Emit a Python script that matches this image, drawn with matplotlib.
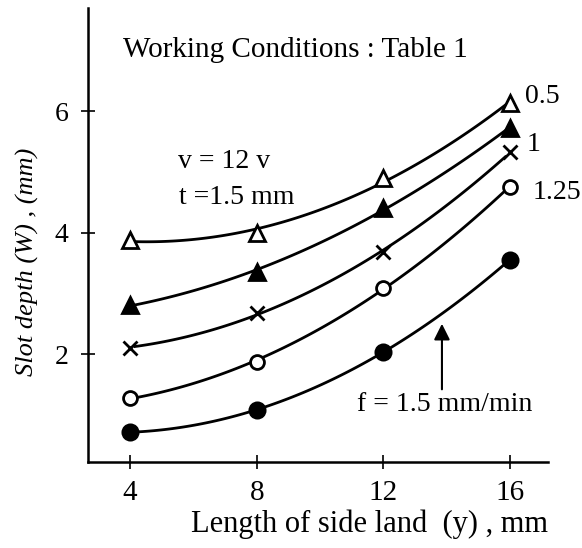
import numpy as np
import matplotlib.pyplot as plt

# side land length (mm)
side_land = [4, 8, 12, 16]

# slot depth (mm), one list per tool setting
depth_open_tri = [3.88, 4.00, 4.90, 6.14]     # 0.5
depth_filled_tri = [2.81, 3.36, 4.41, 5.73]   # 1
depth_cross = [2.11, 2.68, 3.69, 5.33]
depth_open_circ = [1.28, 1.88, 3.10, 4.76]    # 1.25
depth_filled_circ = [0.72, 1.09, 2.04, 3.56]  # f = 1.5 mm/min

curve_labels = ["0.5", "1", "1.25"]

plt.rcParams['font.family'] = ['Liberation Serif', 'DejaVu Serif']

fig = plt.figure(figsize=(5.82, 5.48), dpi=100)
ax = fig.add_axes([88/582, 86/548, 460/582, 454/548])

series = [
    (depth_open_tri, '^', 'white', 11),
    (depth_filled_tri, '^', 'black', 11),
    (depth_cross, 'x', 'black', 10),
    (depth_open_circ, 'o', 'white', 10),
    (depth_filled_circ, 'o', 'black', 11),
]

x = np.array(side_land, dtype=float)
xs = np.linspace(4.15, 15.85, 100)
for vals, mk, fc, ms in series:
    coef = np.polyfit(x, vals, 2)
    ax.plot(xs, np.polyval(coef, xs), color='black', lw=2)
    ax.plot(x, vals, linestyle='none', marker=mk, markersize=ms,
            markerfacecolor=fc, markeredgecolor='black', markeredgewidth=2)

ax.set_xlim(2.67, 17.2)
ax.set_ylim(0.23, 7.70)
ax.set_xticks([4, 8, 12, 16])
ax.set_yticks([2, 4, 6])
ax.tick_params(direction='inout', length=10, width=1.2)
ax.tick_params(axis='x', labelsize=21, pad=8)
ax.tick_params(axis='y', labelsize=20, pad=9)
ax.spines['top'].set_visible(False)
ax.spines['right'].set_visible(False)
ax.spines['left'].set_linewidth(1.8)
ax.spines['bottom'].set_linewidth(1.8)

ax.set_xlabel("Length of side land  (y) , mm", fontsize=22, va='center')
ax.xaxis.set_label_coords(0.611, -0.138)
ax.set_ylabel("Slot depth (W) , (mm)", fontsize=19, style='italic', va='center')
ax.yaxis.set_label_coords(-0.132, 0.44)

ax.text(3.78, 7.01, "Working Conditions : Table 1", fontsize=21, va='center')
ax.text(5.52, 5.17, "v = 12 v", fontsize=20, va='center')
ax.text(5.55, 4.59, "t =1.5 mm", fontsize=20, va='center')
ax.text(11.17, 1.17, "f = 1.5 mm/min", fontsize=20, va='center')

label_pos = [(16.47, 6.24), (16.54, 5.45), (16.72, 4.67)]
for lab, (lx, ly) in zip(curve_labels, label_pos):
    ax.text(lx, ly, lab, fontsize=20, va='center')

ax.annotate("", xy=(13.85, 2.55), xytext=(13.85, 1.38),
            arrowprops=dict(arrowstyle='-|>', color='black', lw=1.5,
                            mutation_scale=24))

fig.savefig("out.png", dpi=100)
